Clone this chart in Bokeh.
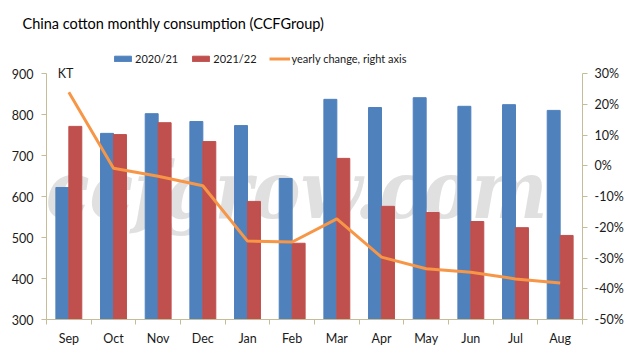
from bokeh.plotting import figure
from bokeh.models import (Range1d, LinearAxis, Legend, LegendItem, Label, FixedTicker,
                          CustomJSTickFormatter, PrintfTickFormatter, ColumnDataSource)
from bokeh.transform import dodge
from bokeh.embed import file_html
from bokeh.resources import INLINE
import numpy as np

months = ["Sep", "Oct", "Nov", "Dec", "Jan", "Feb", "Mar", "Apr", "May", "Jun", "Jul", "Aug"]
cons_2020_21 = [622, 754, 802, 783, 773, 644, 837, 817, 841, 820, 824, 810]
cons_2021_22 = [771, 751, 780, 734, 588, 486, 693, 576, 561, 539, 524, 505]
yoy_change = [23.9, -0.8, -3.4, -6.5, -24.5, -24.8, -17.3, -29.7, -33.5, -34.6, -36.8, -38.1]

title_text = "China cotton monthly consumption (CCFGroup)"
series_names = ["2020/21", "2021/22", "yearly change, right axis"]
left_ticks = [300, 400, 500, 600, 700, 800, 900]
right_ticks = [-50, -40, -30, -20, -10, 0, 10, 20, 30]

BLUE = "#4F81BD"
RED = "#C0504D"
ORANGE = "#F79646"
AXIS = "#C4BD97"
FONT = "Lato"

TOP_BORDER = 40
# frame extends above the axes' top (900 / 30%) so the legend and unit label fit inside it
extra_px = 73 - TOP_BORDER
px_per_unit_left = 246 / (left_ticks[-1] - left_ticks[0])
px_per_unit_right = 246 / (right_ticks[-1] - right_ticks[0])
y_top = left_ticks[-1] + extra_px / px_per_unit_left
r_top = right_ticks[-1] + extra_px / px_per_unit_right

idx = np.arange(len(months)) + 0.5
src = ColumnDataSource(dict(x=idx, a=cons_2020_21, b=cons_2021_22, c=yoy_change))

p = figure(width=630, height=355, output_backend="svg", toolbar_location=None,
           x_range=Range1d(0, len(months)), y_range=Range1d(left_ticks[0], y_top),
           min_border_left=46, min_border_right=48, min_border_top=TOP_BORDER, min_border_bottom=36)
p.outline_line_color = None
p.grid.visible = False
p.extra_y_ranges = {"pct": Range1d(right_ticks[0], r_top)}

# watermark
wm = Label(x=len(months) / 2 - 0.4, y=615, text="ccfgrow.com", text_align="center", text_baseline="middle",
           text_font="DejaVu Serif Condensed", text_font_style="bold italic", text_font_size="80px",
           text_color="#d6d6d6", text_alpha=0.75, level="underlay")
p.add_layout(wm)

r1 = p.vbar(x=dodge("x", -0.145), top="a", bottom=0, width=0.29, source=src, color=BLUE)
r2 = p.vbar(x=dodge("x", 0.145), top="b", bottom=0, width=0.29, source=src, color=RED)
r3 = p.line(x="x", y="c", source=src, y_range_name="pct", line_color=ORANGE, line_width=3)

# x axis
xa = p.xaxis[0]
xa.ticker = FixedTicker(ticks=list(idx), minor_ticks=list(range(len(months) + 1)))
xa.formatter = CustomJSTickFormatter(args=dict(m=months), code="return m[Math.floor(tick)]")
xa.major_tick_out = 0
xa.major_tick_in = 0
xa.minor_tick_out = 5
xa.minor_tick_in = 0
xa.minor_tick_line_color = AXIS
xa.axis_line_color = AXIS
xa.major_label_standoff = 6

# left axis
ya = p.yaxis[0]
ya.ticker = FixedTicker(ticks=left_ticks)
ya.bounds = (left_ticks[0], left_ticks[-1])
ya.minor_tick_line_color = None
ya.major_tick_out = 5
ya.major_tick_in = 0
ya.major_tick_line_color = AXIS
ya.axis_line_color = AXIS
ya.major_label_standoff = 8

# right axis
ra = LinearAxis(y_range_name="pct", ticker=FixedTicker(ticks=right_ticks),
                formatter=PrintfTickFormatter(format="%d%%"),
                bounds=(right_ticks[0], right_ticks[-1]))
ra.minor_tick_line_color = None
ra.major_tick_out = 5
ra.major_tick_in = 0
ra.major_tick_line_color = AXIS
ra.axis_line_color = AXIS
ra.major_label_standoff = 7
p.add_layout(ra, "right")

for ax in [xa, ya, ra]:
    ax.major_label_text_font = FONT
    ax.major_label_text_font_size = "12.5px"
    ax.major_label_text_color = "#1a1a1a"

# KT unit label
p.add_layout(Label(x=0.25, y=left_ticks[-1], text="KT", text_baseline="middle", text_font=FONT,
                   text_font_size="12.5px", text_color="#1a1a1a"))

# title
p.title.text = title_text
p.title.align = "left"
p.title.offset = -24
p.title.text_font = FONT
p.title.text_font_size = "14.5px"
p.title.text_font_style = "normal"
p.title.text_color = "#000000"
p.title.standoff = 18

legend = Legend(items=[LegendItem(label=series_names[0], renderers=[r1]),
                       LegendItem(label=series_names[1], renderers=[r2]),
                       LegendItem(label=series_names[2], renderers=[r3])],
                orientation="horizontal", location=(66, 319 - 65),
                label_text_font=FONT, label_text_font_size="11px", label_text_color="#1a1a1a",
                glyph_width=21, glyph_height=7, label_standoff=2, spacing=12,
                padding=0, margin=0, border_line_color=None, background_fill_alpha=0)
p.add_layout(legend, "center")

open("out.html", "w").write(file_html(p, INLINE))
